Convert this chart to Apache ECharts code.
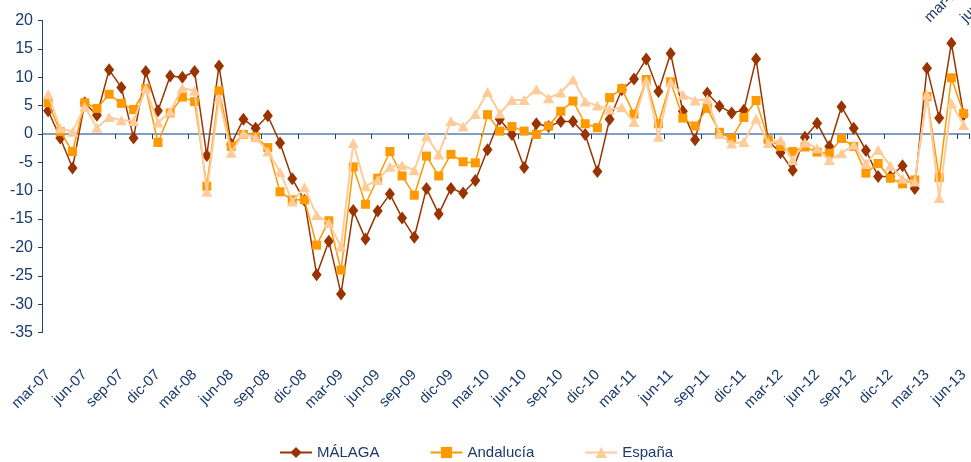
<!DOCTYPE html>
<html>
<head>
<meta charset="utf-8">
<script src="https://cdn.jsdelivr.net/npm/echarts@6/dist/echarts.min.js"></script>
<style>
html,body{margin:0;padding:0;background:#ffffff;}
#chart{width:971px;height:462px;}
</style>
</head>
<body>
<div id="chart"></div>
<script>
var categories = [
  'mar-07','abr-07','may-07','jun-07','jul-07','ago-07','sep-07','oct-07','nov-07','dic-07',
  'ene-08','feb-08','mar-08','abr-08','may-08','jun-08','jul-08','ago-08','sep-08','oct-08','nov-08','dic-08',
  'ene-09','feb-09','mar-09','abr-09','may-09','jun-09','jul-09','ago-09','sep-09','oct-09','nov-09','dic-09',
  'ene-10','feb-10','mar-10','abr-10','may-10','jun-10','jul-10','ago-10','sep-10','oct-10','nov-10','dic-10',
  'ene-11','feb-11','mar-11','abr-11','may-11','jun-11','jul-11','ago-11','sep-11','oct-11','nov-11','dic-11',
  'ene-12','feb-12','mar-12','abr-12','may-12','jun-12','jul-12','ago-12','sep-12','oct-12','nov-12','dic-12',
  'ene-13','feb-13','mar-13','abr-13','may-13','jun-13'
];

var malaga = [4.1, -0.7, -6.0, 5.5, 3.3, 11.3, 8.2, -0.7, 11.0, 4.1,
  10.2, 10.0, 11.0, -3.8, 12.0, -1.8, 2.6, 1.0, 3.2, -1.6, -7.9, -11.7,
  -24.8, -18.9, -28.2, -13.5, -18.5, -13.6, -10.6, -14.8, -18.2, -9.6, -14.1, -9.6,
  -10.4, -8.2, -2.8, 2.6, -0.1, -5.9, 1.8, 1.3, 2.2, 2.2, -0.1, -6.6,
  2.6, 7.8, 9.7, 13.2, 7.5, 14.2, 4.0, -1.0, 7.2, 4.9, 3.7, 4.2,
  13.2, -1.2, -3.3, -6.4, -0.6, 1.9, -2.2, 4.8, 1.0, -2.9, -7.5, -7.5,
  -5.6, -9.6, 11.6, 2.8, 16.0, 3.4];

var andalucia = [5.5, 0.4, -3.1, 5.5, 4.5, 7.0, 5.4, 4.3, 8.0, -1.5,
  3.7, 6.5, 5.7, -9.2, 7.6, -2.2, -0.1, -0.5, -2.4, -10.2, -11.6, -11.6,
  -19.6, -15.3, -24.0, -5.8, -12.4, -7.8, -3.1, -7.4, -10.8, -3.9, -7.4, -3.6,
  -4.9, -5.1, 3.4, 0.5, 1.3, 0.5, -0.1, 1.4, 4.0, 5.8, 1.8, 1.1,
  6.4, 8.0, 3.5, 9.6, 1.8, 9.2, 2.8, 1.4, 4.5, 0.3, -0.8, 2.9,
  5.9, -1.0, -2.2, -3.1, -2.3, -3.2, -3.4, -0.8, -2.2, -6.9, -5.2, -7.8,
  -8.8, -8.1, 6.6, -7.7, 9.9, 3.6];

var espana = [7.0, 1.0, 0.4, 4.8, 1.1, 3.0, 2.4, 2.3, 8.0, 2.0,
  3.9, 8.1, 7.6, -10.2, 6.3, -3.3, 0.1, -0.6, -3.1, -6.7, -11.9, -9.4,
  -14.3, -15.7, -19.9, -1.6, -9.2, -8.1, -5.8, -5.5, -6.4, -0.4, -3.6, 2.3,
  1.3, 3.5, 7.4, 3.6, 6.0, 6.0, 7.9, 6.3, 7.3, 9.6, 5.7, 5.0,
  4.3, 4.7, 2.1, 9.4, -0.5, 9.1, 6.9, 5.9, 6.1, 0.0, -1.7, -1.4,
  2.7, -1.6, -1.1, -4.6, -1.5, -2.5, -4.6, -3.4, -1.9, -5.2, -2.8, -5.6,
  -7.9, -8.4, 6.9, -11.3, 5.4, 1.6];

var seriesNames = ['MÁLAGA', 'Andalucía', 'España'];
var overflowLabels = ['mar-13', 'jun-13'];

var textColor = '#1B3A6B';
var fontFamily = "'Liberation Sans', Arial, sans-serif";

var chart = echarts.init(document.getElementById('chart'), null, {renderer: 'canvas'});

var option = {
  animation: false,
  backgroundColor: '#ffffff',
  grid: {left: 42, top: 20.5, width: 931, height: 312, containLabel: false},
  legend: {
    left: 279, top: 445, padding: 0,
    itemWidth: 32, itemHeight: 14, itemGap: 50,
    textStyle: {color: textColor, fontSize: 15, fontFamily: fontFamily},
    data: seriesNames
  },
  xAxis: [
    {
      type: 'category', data: categories, boundaryGap: true, position: 'bottom',
      axisLine: {show: false, onZero: false},
      axisTick: {show: false},
      axisLabel: {interval: 2, rotate: 45, margin: 40, color: textColor, fontSize: 15, fontFamily: fontFamily},
      splitLine: {show: false}
    },
    {
      type: 'category', data: categories, boundaryGap: true, position: 'bottom',
      axisLine: {show: true, onZero: true, lineStyle: {color: '#5A7DAA', width: 1.5}},
      axisTick: {show: true, interval: 2, length: 5, lineStyle: {color: '#1F3F6F', width: 1}},
      axisLabel: {show: false},
      splitLine: {show: false}
    }
  ],
  yAxis: {
    type: 'value', min: -35, max: 20, interval: 5,
    axisLine: {show: true, lineStyle: {color: '#1F3F6F', width: 1}},
    axisTick: {show: true, length: 4, lineStyle: {color: '#1F3F6F'}},
    axisLabel: {color: textColor, fontSize: 16, fontFamily: fontFamily, margin: 9},
    splitLine: {show: false}
  },
  graphic: [
    {type: 'text', x: 927, y: 20, rotation: Math.PI / 4,
     style: {text: overflowLabels[0], fill: textColor, fontSize: 15, fontFamily: fontFamily, align: 'left', verticalAlign: 'middle'}},
    {type: 'text', x: 963, y: 20, rotation: Math.PI / 4,
     style: {text: overflowLabels[1], fill: textColor, fontSize: 15, fontFamily: fontFamily, align: 'left', verticalAlign: 'middle'}}
  ],
  series: [
    {
      name: seriesNames[0], type: 'line', data: malaga, xAxisIndex: 0,
      symbol: 'diamond', symbolSize: [10, 13], showAllSymbol: true,
      lineStyle: {color: '#993300', width: 1.5},
      itemStyle: {color: '#993300'}, z: 2
    },
    {
      name: seriesNames[1], type: 'line', data: andalucia, xAxisIndex: 0,
      symbol: 'rect', symbolSize: 9, showAllSymbol: true,
      lineStyle: {color: '#FF9900', width: 1.5},
      itemStyle: {color: '#FF9900'}, z: 3
    },
    {
      name: seriesNames[2], type: 'line', data: espana, xAxisIndex: 0,
      symbol: 'triangle', symbolSize: [11, 10], showAllSymbol: true,
      lineStyle: {color: '#FFCC99', width: 2},
      itemStyle: {color: '#FFCC99'}, z: 4
    }
  ]
};
chart.setOption(option);
</script>
</body>
</html>
